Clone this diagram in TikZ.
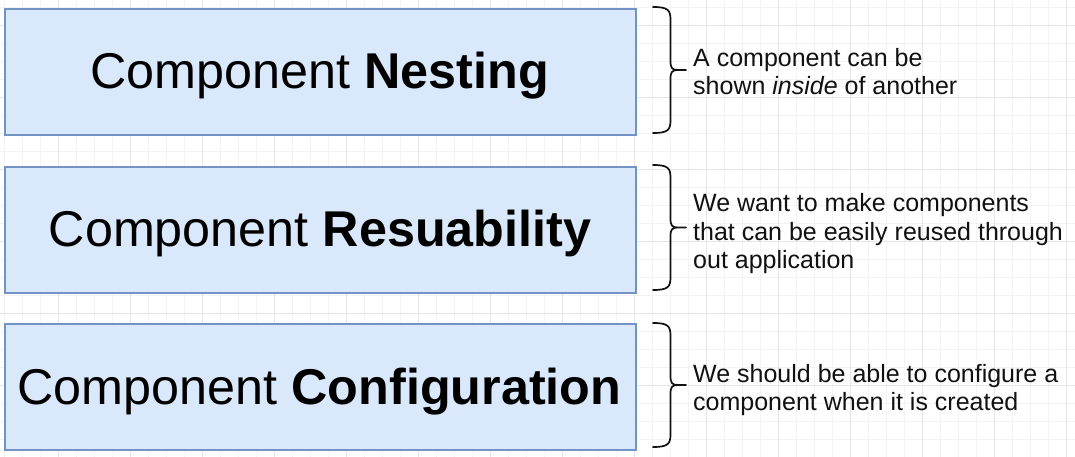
\documentclass[tikz,border=0pt]{standalone}
\usepackage{fontspec}
\setmainfont{Liberation Sans}
\definecolor{boxfill}{HTML}{DAE8FC}
\definecolor{boxline}{HTML}{7393C4}
\definecolor{gridminor}{HTML}{F3F3F3}
\definecolor{gridmajor}{HTML}{E6E6E6}
\definecolor{ink}{HTML}{111111}
\tikzset{
  topic/.style={draw=boxline, fill=boxfill, line width=1.6pt, minimum width=631pt, minimum height=126pt, inner sep=0pt, anchor=north west},
  topictext/.style={anchor=base, inner sep=0pt, font=\fontsize{50.3}{60}\selectfont, text=black},
  notetext/.style={anchor=base west, inner sep=0pt, font=\fontsize{25}{28.3}\selectfont, text=ink},
  bracket/.style={draw=ink, line width=1.7pt, line cap=round, line join=round}
}
\newcommand{\notelines}[1]{\begin{tabular}[t]{@{}l@{}}#1\end{tabular}}
\begin{document}
\begin{tikzpicture}[x=1pt,y=-1pt]
\useasboundingbox (0,0) rectangle (1075,457);
\fill[white] (0,0) rectangle (1075,457);
% grid
\foreach \k in {0,...,25} { \draw[gridminor, line width=0.8pt] (0,7+18*\k) -- (1075,7+18*\k); }
\foreach \k in {0,...,59} { \draw[gridminor, line width=0.8pt] (4+18*\k,0) -- (4+18*\k,457); }
\foreach \k in {0,...,6} { \draw[gridmajor, line width=0.9pt] (0,25+72*\k) -- (1075,25+72*\k); }
\foreach \k in {-1,...,14} { \draw[gridmajor, line width=0.9pt] (58+72*\k,0) -- (58+72*\k,457); }
% shadows
\foreach \t in {8,166,323} { \fill[black, opacity=0.12] (6,\t+2) rectangle (637,\t+127); }
% boxes
\node[topic] (b1) at (4,8) {};
\node[topic] (b2) at (4,166) {};
\node[topic] (b3) at (4,323) {};
\node[topictext] (t1) at (319.5,88.5) {Component \textbf{Nesting}};
\node[topictext] (t2) at (320,246.5) {Component \textbf{Resuability}};
\node[topictext] (t3) at (319.5,404.5) {Component \textbf{Configuration}};
% braces
\foreach \T/\B [count=\i] in {7/133, 165/290, 323/447} {
  \pgfmathsetmacro{\M}{(\T+\B)/2}
  \draw[bracket] (653,\T) .. controls (668,\T) and (670.5,\T+3) .. (670.5,\T+13)
     -- (670.5,\M-9) .. controls (670.5,\M-2) and (672,\M) .. (678,\M) -- (686,\M)
     (678,\M) .. controls (672,\M) and (670.5,\M+2) .. (670.5,\M+9)
     -- (670.5,\B-13) .. controls (670.5,\B-3) and (668,\B) .. (653,\B);
}
% notes
\node[notetext] (n1) at (693,66.7) {\notelines{A component can be\\ shown \textit{inside} of another}};
\node[notetext] (n2) at (693,211.7) {\notelines{We want to make components\\ that can be easily reused through\\ out application}};
\node[notetext] (n3) at (693,382) {\notelines{We should be able to configure a\\ component when it is created}};
\end{tikzpicture}
\end{document}
